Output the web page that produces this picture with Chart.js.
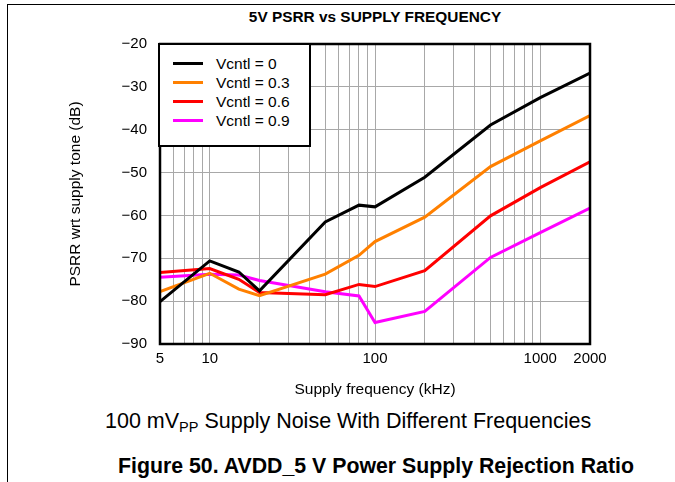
<!DOCTYPE html>
<html>
<head>
<meta charset="utf-8">
<script src="https://cdn.jsdelivr.net/npm/chart.js@4.4.0/dist/chart.umd.min.js"></script>
<style>
  body { margin: 0; background: #fff; font-family: "Liberation Sans", Arial, sans-serif; color: #000; }
  #wrap { position: relative; width: 675px; height: 482px; overflow: hidden; }
  #frame { position: absolute; left: 7px; top: 4px; width: 700px; height: 500px; border-top: 1px solid #000; border-left: 1px solid #000; }
  #chartBox { position: absolute; left: 0; top: 0; width: 675px; height: 400px; }
  #title { position: absolute; left: 160px; width: 430px; top: 8px; text-align: center; font-weight: bold; font-size: 15.4px; line-height: 18px; }
  #legend { position: absolute; left: 158px; top: 43px; width: 149px; height: 91px; border: 2px solid #000; background: #fff; padding-top: 9px; box-sizing: content-box; }
  #legend .row { display: flex; align-items: center; height: 19px; font-size: 15.5px; }
  #legend .swatch { display: inline-block; width: 30px; height: 3.5px; margin-left: 13px; margin-right: 13px; }
  .caption { position: absolute; line-height: 24px; white-space: nowrap; }
  .caption sub { font-size: 14.5px; vertical-align: -4px; line-height: 0; }
  #cap1 { left: 105px; top: 409px; font-size: 21.5px; }
  #cap2 { left: 118px; top: 454px; font-size: 21.3px; font-weight: bold; }
</style>
</head>
<body>
<div id="wrap">
  <div id="frame"></div>
  <div id="title">5V PSRR vs SUPPLY FREQUENCY</div>
  <div id="chartBox"><canvas id="psrrChart" width="675" height="400"></canvas></div>
  <div id="legend"></div>
  <div class="caption" id="cap1">100 mV<sub>PP</sub> Supply Noise With Different Frequencies</div>
  <div class="caption" id="cap2">Figure 50. AVDD_5 V Power Supply Rejection Ratio</div>
</div>
<script>
// supply frequency points (kHz)
const freqs = [5, 10, 15, 20, 50, 80, 100, 200, 500, 1000, 2000];

// PSRR (dB) per control voltage
const vcntl0  = [-80.1, -70.6, -73.2, -77.6, -61.5, -57.6, -58.0, -51.1, -38.9, -32.5, -26.8];
const vcntl03 = [-77.8, -73.5, -77.2, -78.7, -73.7, -69.3, -66.1, -60.4, -48.6, -42.6, -36.7];
const vcntl06 = [-73.3, -72.4, -74.9, -78.0, -78.5, -76.1, -76.6, -72.9, -60.1, -53.5, -47.5];
const vcntl09 = [-74.4, -73.7, -73.9, -75.2, -77.8, -78.8, -85.0, -82.4, -69.8, -64.0, -58.3];

const seriesLabels = ['Vcntl = 0', 'Vcntl = 0.3', 'Vcntl = 0.6', 'Vcntl = 0.9'];
const seriesColors = ['#000000', '#ff8000', '#ff0000', '#ff00ff'];

// log grid positions and which of them get a label
const gridFreqs = [5, 6, 7, 8, 9, 10, 20, 30, 40, 50, 60, 70, 80, 90, 100,
                   200, 300, 400, 500, 600, 700, 800, 900, 1000, 2000];
const labeledFreqs = [5, 10, 100, 1000, 2000];
const dbTicks = [-90, -80, -70, -60, -50, -40, -30, -20];

function toPoints(values) {
    return freqs.map((f, i) => ({ x: f, y: values[i] }));
}

const allSeries = [vcntl0, vcntl03, vcntl06, vcntl09];

// draws the legend as html so it can sit inside the plot with a white box
const htmlLegend = {
    id: 'htmlLegend',
    afterUpdate(chart) {
        const box = document.getElementById('legend');
        box.innerHTML = '';
        chart.options.plugins.legend.labels.generateLabels(chart).forEach(item => {
            const row = document.createElement('div');
            row.className = 'row';
            const swatch = document.createElement('span');
            swatch.className = 'swatch';
            swatch.style.background = item.strokeStyle;
            const text = document.createElement('span');
            text.textContent = item.text;
            row.append(swatch, text);
            box.appendChild(row);
        });
    }
};

// black frame round the plot area
const plotFrame = {
    id: 'plotFrame',
    afterDatasetsDraw(chart) {
        const { ctx, chartArea: a } = chart;
        ctx.save();
        ctx.strokeStyle = '#000';
        ctx.lineWidth = 2.5;
        ctx.strokeRect(a.left, a.top, a.right - a.left, a.bottom - a.top);
        ctx.restore();
    }
};

const gridColor = '#a8a8a8';

new Chart(document.getElementById('psrrChart'), {
    type: 'line',
    data: {
        datasets: allSeries.map((vals, i) => ({
            label: seriesLabels[i],
            data: toPoints(vals),
            borderColor: seriesColors[i],
            backgroundColor: seriesColors[i],
            borderWidth: 3,
            pointRadius: 0,
            tension: 0,
            fill: false
        }))
    },
    options: {
        responsive: false,
        animation: false,
        layout: { padding: { left: 0, top: 44, right: 85, bottom: 0 } },
        plugins: {
            legend: { display: false },
            title: { display: false },
            tooltip: { enabled: false }
        },
        scales: {
            x: {
                type: 'logarithmic',
                min: 5,
                max: 2000,
                afterBuildTicks: (scale) => { scale.ticks = gridFreqs.map(v => ({ value: v })); },
                afterFit: (scale) => { scale.height = 56; },
                ticks: {
                    autoSkip: false,
                    maxRotation: 0,
                    padding: 6,
                    color: '#000',
                    font: { family: 'Liberation Sans', size: 15 },
                    callback: (v) => labeledFreqs.includes(v) ? String(v) : ''
                },
                grid: { color: gridColor, lineWidth: 1, drawTicks: false },
                border: { display: false },
                title: {
                    display: true,
                    text: 'Supply frequency (kHz)',
                    color: '#000',
                    font: { family: 'Liberation Sans', size: 15.5 },
                    padding: { top: 0, bottom: 1 }
                }
            },
            y: {
                min: -90,
                max: -20,
                afterBuildTicks: (scale) => { scale.ticks = dbTicks.map(v => ({ value: v })); },
                afterFit: (scale) => { scale.width = 160; },
                ticks: {
                    padding: 13,
                    color: '#000',
                    font: { family: 'Liberation Sans', size: 15 },
                    callback: (v) => String(v).replace('-', '\u2212')
                },
                grid: { color: gridColor, lineWidth: 1, drawTicks: false },
                border: { display: false },
                title: {
                    display: true,
                    text: 'PSRR wrt supply tone (dB)',
                    color: '#000',
                    font: { family: 'Liberation Sans', size: 15.5 },
                    padding: { top: 66, bottom: 0 }
                }
            }
        }
    },
    plugins: [htmlLegend, plotFrame]
});
</script>
</body>
</html>
